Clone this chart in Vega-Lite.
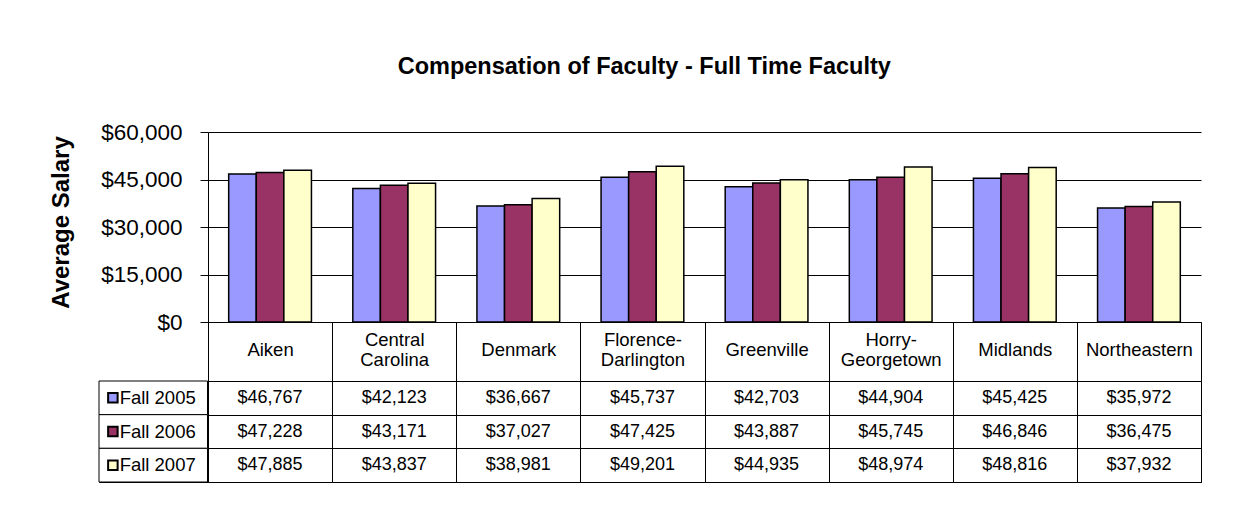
{
  "$schema": "https://vega.github.io/schema/vega-lite/v6.json",
  "padding": {"left": 49, "top": 54, "right": 5, "bottom": 5},
  "background": "white",
  "title": {"text": "Compensation of Faculty - Full Time Faculty", "fontSize": 23.5, "fontWeight": "bold", "font": "Liberation Sans", "color": "black", "anchor": "middle", "offset": 43, "dx": 19},
  "config": {"font": "Liberation Sans", "view": {"stroke": null}},
  "datasets": {
    "salaries": [
      {"campus": "Aiken", "series": "Fall 2005", "salary": 46767},
      {"campus": "Aiken", "series": "Fall 2006", "salary": 47228},
      {"campus": "Aiken", "series": "Fall 2007", "salary": 47885},
      {"campus": "Central Carolina", "series": "Fall 2005", "salary": 42123},
      {"campus": "Central Carolina", "series": "Fall 2006", "salary": 43171},
      {"campus": "Central Carolina", "series": "Fall 2007", "salary": 43837},
      {"campus": "Denmark", "series": "Fall 2005", "salary": 36667},
      {"campus": "Denmark", "series": "Fall 2006", "salary": 37027},
      {"campus": "Denmark", "series": "Fall 2007", "salary": 38981},
      {"campus": "Florence-Darlington", "series": "Fall 2005", "salary": 45737},
      {"campus": "Florence-Darlington", "series": "Fall 2006", "salary": 47425},
      {"campus": "Florence-Darlington", "series": "Fall 2007", "salary": 49201},
      {"campus": "Greenville", "series": "Fall 2005", "salary": 42703},
      {"campus": "Greenville", "series": "Fall 2006", "salary": 43887},
      {"campus": "Greenville", "series": "Fall 2007", "salary": 44935},
      {"campus": "Horry-Georgetown", "series": "Fall 2005", "salary": 44904},
      {"campus": "Horry-Georgetown", "series": "Fall 2006", "salary": 45745},
      {"campus": "Horry-Georgetown", "series": "Fall 2007", "salary": 48974},
      {"campus": "Midlands", "series": "Fall 2005", "salary": 45425},
      {"campus": "Midlands", "series": "Fall 2006", "salary": 46846},
      {"campus": "Midlands", "series": "Fall 2007", "salary": 48816},
      {"campus": "Northeastern", "series": "Fall 2005", "salary": 35972},
      {"campus": "Northeastern", "series": "Fall 2006", "salary": 36475},
      {"campus": "Northeastern", "series": "Fall 2007", "salary": 37932}
    ],
    "seriesList": [
      {"series": "Fall 2005"},
      {"series": "Fall 2006"},
      {"series": "Fall 2007"}
    ]
  },
  "columns": 2,
  "align": "each",
  "bounds": "flush",
  "spacing": {"row": 59, "column": 0},
  "concat": [
    {
      "width": 108.5,
      "height": 190,
      "data": {"name": "seriesList"},
      "mark": {"type": "text", "text": ""},
      "encoding": {}
    },
    {
      "width": 993,
      "height": 190,
      "data": {"name": "salaries"},
      "mark": {"type": "bar", "stroke": "black", "strokeWidth": 1.5},
      "encoding": {
        "x": {
          "field": "campus", "type": "nominal",
          "sort": ["Aiken", "Central Carolina", "Denmark", "Florence-Darlington", "Greenville", "Horry-Georgetown", "Midlands", "Northeastern"],
          "scale": {"paddingInner": 0, "paddingOuter": 0},
          "axis": {
            "title": null, "labelAngle": 0,
            "labelExpr": "indexof(datum.label,'-') > 0 ? [substring(datum.label,0,indexof(datum.label,'-')+1), substring(datum.label,indexof(datum.label,'-')+1)] : split(datum.label,' ')",
            "labelFontSize": 18.5, "labelColor": "black", "labelLineHeight": 20,
            "labelBaseline": "middle",
            "labelPadding": {"condition": {"test": "indexof(datum.label,'-') > 0 || indexof(datum.label,' ') > 0", "value": -41.5}, "value": -31.5},
            "labelOverlap": false, "labelBound": false, "labelLimit": 0,
            "tickBand": "extent", "tickSize": 59, "tickColor": "black", "tickWidth": 1,
            "domainColor": "black", "domainWidth": 1, "grid": false
          }
        },
        "xOffset": {
          "field": "series", "type": "nominal", "sort": ["Fall 2005", "Fall 2006", "Fall 2007"],
          "scale": {"paddingInner": 0, "paddingOuter": 0.75}
        },
        "y": {
          "field": "salary", "type": "quantitative",
          "scale": {"domain": [0, 60000], "nice": false},
          "axis": {
            "title": "Average Salary", "titleFontSize": 24, "titleFontWeight": "bold", "titleColor": "black", "titlePadding": 15, "titleY": 90,
            "values": [0, 15000, 30000, 45000, 60000], "format": "$,.0f",
            "labelFontSize": 22.5, "labelColor": "black", "labelPadding": 18,
            "tickSize": 8, "tickColor": "black", "domainColor": "black",
            "grid": true, "gridColor": "black", "gridOpacity": 1,
            "minExtent": 120, "maxExtent": 120
          }
        },
        "color": {
          "field": "series", "type": "nominal",
          "scale": {"domain": ["Fall 2005", "Fall 2006", "Fall 2007"], "range": ["#9999ff", "#993366", "#ffffcc"]},
          "legend": null
        }
      }
    },
    {
      "width": 108.5,
      "height": 101,
      "view": {"stroke": "black", "strokeWidth": 1},
      "data": {"name": "seriesList"},
      "encoding": {
        "y": {
          "field": "series", "type": "nominal", "sort": ["Fall 2005", "Fall 2006", "Fall 2007"],
          "scale": {"paddingInner": 0, "paddingOuter": 0},
          "axis": null
        }
      },
      "layer": [
        {
          "mark": {"type": "rect", "fill": "white", "stroke": "black", "strokeWidth": 1}
        },
        {
          "mark": {"type": "point", "shape": "square", "filled": true, "size": 90, "stroke": "black", "strokeWidth": 2, "opacity": 1, "strokeOpacity": 1},
          "encoding": {
            "x": {"datum": "key", "type": "ordinal", "scale": {"type": "point", "domain": ["key", "label"], "range": [10.5, 24]}, "axis": null},
            "color": {
              "field": "series", "type": "nominal",
              "scale": {"domain": ["Fall 2005", "Fall 2006", "Fall 2007"], "range": ["#9999ff", "#993366", "#ffffcc"]},
              "legend": null
            }
          }
        },
        {
          "mark": {"type": "text", "align": "left", "baseline": "middle", "fontSize": 18.5, "color": "black"},
          "encoding": {
            "x": {"datum": "label", "type": "ordinal", "axis": null},
            "text": {"field": "series", "type": "nominal"}
          }
        }
      ]
    },
    {
      "width": 993,
      "height": 101,
      "view": {"stroke": "black", "strokeWidth": 1},
      "data": {"name": "salaries"},
      "mark": {"type": "text", "fontSize": 18, "color": "black", "baseline": "middle"},
      "encoding": {
        "x": {
          "field": "campus", "type": "nominal",
          "sort": ["Aiken", "Central Carolina", "Denmark", "Florence-Darlington", "Greenville", "Horry-Georgetown", "Midlands", "Northeastern"],
          "scale": {"paddingInner": 0, "paddingOuter": 0},
          "axis": {"title": null, "labels": false, "ticks": false, "domain": false, "grid": true, "tickBand": "extent", "gridColor": "black", "gridOpacity": 1, "minExtent": 0, "maxExtent": 0}
        },
        "y": {
          "field": "series", "type": "nominal", "sort": ["Fall 2005", "Fall 2006", "Fall 2007"],
          "scale": {"paddingInner": 0, "paddingOuter": 0},
          "axis": {"title": null, "labels": false, "ticks": false, "domain": false, "grid": true, "tickBand": "extent", "gridColor": "black", "gridOpacity": 1, "minExtent": 0, "maxExtent": 0}
        },
        "text": {"field": "salary", "type": "quantitative", "format": "$,.0f"}
      }
    }
  ]
}
